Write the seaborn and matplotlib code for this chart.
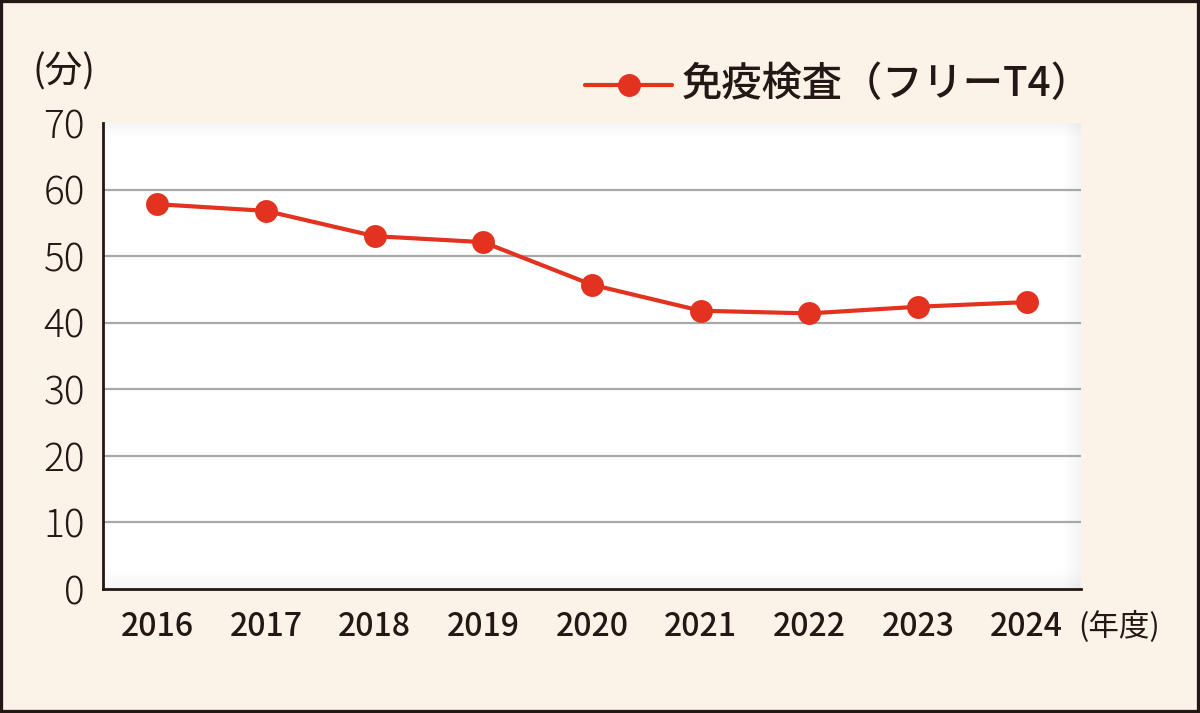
import matplotlib
matplotlib.use("Agg")
import matplotlib.pyplot as plt
import seaborn as sns
import numpy as np
from matplotlib.patches import Rectangle

years = [2016, 2017, 2018, 2019, 2020, 2021, 2022, 2023, 2024]
minutes = [57.8, 56.8, 53.0, 52.1, 45.7, 41.8, 41.4, 42.4, 43.1]
y_ticks = [0, 10, 20, 30, 40, 50, 60, 70]
series_label = "免疫検査（フリーT4）"
y_unit = "(分)"
x_unit = "(年度)"

sns.set_theme(style="white")
cjk = ["Noto Sans CJK JP", "DejaVu Sans"]
plt.rcParams["font.family"] = cjk

RED = "#E3321F"
BG = "#FBF3E7"
DARK = "#231815"

fig = plt.figure(figsize=(12, 7.13), dpi=100, facecolor=BG)
ax = fig.add_axes([103 / 1200, 1 - 589 / 713, (1081 - 103) / 1200, (589 - 123) / 713])
ax.set_facecolor("white")

# inner soft shadow along right / bottom / top edges
for i in range(10):
    a = 0.009
    w = 0.0018 * (i + 1)
    ax.add_patch(Rectangle((1 - w, 0), w, 1, transform=ax.transAxes,
                           color="#888888", alpha=a, lw=0, zorder=0.5))
    h = 0.004 * (i + 1)
    ax.add_patch(Rectangle((0, 0), 1, h, transform=ax.transAxes,
                           color="#888888", alpha=a, lw=0, zorder=0.5))
    ht = 0.003 * (i + 1)
    ax.add_patch(Rectangle((0, 1 - ht), 1, ht, transform=ax.transAxes,
                           color="#888888", alpha=a * 0.7, lw=0, zorder=0.5))

for v in y_ticks[1:-1]:
    ax.axhline(v, color="#A8A8A8", lw=1.6, zorder=1)

sns.lineplot(x=years, y=minutes, ax=ax, color=RED, lw=3.0, marker="o",
             markersize=16.5, markeredgewidth=0, zorder=3, label=series_label,
             legend=False)

ax.set_xlim(years[0] - 0.5, years[-1] + 0.5)
ax.set_ylim(0, 70)
ax.set_yticks(y_ticks)
ax.set_yticklabels([str(v) for v in y_ticks], fontsize=28, color=DARK,
                   family=cjk, fontweight="light")
ax.set_xticks(years)
ax.set_xticklabels([str(y) for y in years], fontsize=23, color=DARK,
                   family=cjk, fontweight="medium")
ax.tick_params(axis="x", which="major", length=0, pad=16)
ax.tick_params(axis="y", which="major", length=0, pad=13)
ax.set_xticks([y + 0.5 for y in years[:-1]], minor=True)
ax.tick_params(axis="x", which="minor", direction="in", length=12, width=1.6,
               color=DARK)

for s in ["top", "right"]:
    ax.spines[s].set_visible(False)
for s in ["left", "bottom"]:
    ax.spines[s].set_color(DARK)
    ax.spines[s].set_linewidth(2.0)
    ax.spines[s].set_zorder(4)

# unit labels
fig.text(32 / 1200, 1 - 72 / 713, y_unit, fontsize=27, color=DARK,
         ha="left", va="center", family=cjk)
fig.text(1078 / 1200, 1 - 627 / 713, x_unit, fontsize=22, color=DARK,
         ha="left", va="center", family=cjk)

# legend drawn manually in figure coords
lx0, lx1, ly = 585 / 1200, 672 / 1200, 1 - 85 / 713
fig.add_artist(plt.Line2D([lx0, lx1], [ly, ly], transform=fig.transFigure,
                          color=RED, lw=3.0))
fig.add_artist(plt.Line2D([(lx0 + lx1) / 2], [ly], transform=fig.transFigure,
                          color=RED, marker="o", markersize=16.5,
                          markeredgewidth=0))
fig.text(682 / 1200, ly, series_label, fontsize=29, color=DARK,
         ha="left", va="center", family=cjk, fontweight="medium")

# outer dark frame
fig.add_artist(Rectangle((0, 0), 1, 1, transform=fig.transFigure,
                         fill=False, edgecolor=DARK, lw=4.5))

fig.savefig("out.png", dpi=100, facecolor=BG)
